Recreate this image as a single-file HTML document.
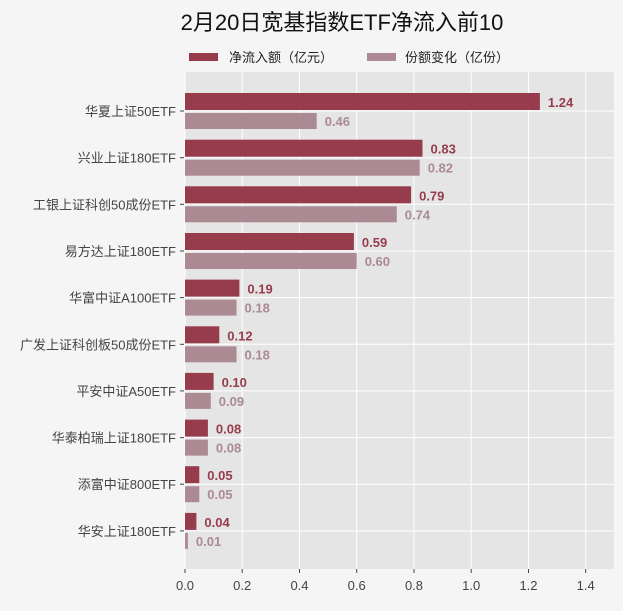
<!DOCTYPE html>
<html><head><meta charset="utf-8"><style>
html,body{margin:0;padding:0;background:#f5f5f5;}
svg text{font-family:"Liberation Sans","Noto Sans CJK SC",sans-serif;}
.n{font-size:13px;fill:#444;text-anchor:end}
.a{font-size:13px;font-weight:bold;fill:#963c4c}
.b{font-size:13px;font-weight:bold;fill:#ab8a93}
</style></head><body>
<svg width="623" height="606" viewBox="0 0 623 606" xmlns="http://www.w3.org/2000/svg">
<rect width="623" height="606" fill="#f5f5f5"/>
<text x="342" y="30" font-size="22" text-anchor="middle" fill="#111">2月20日宽基指数ETF净流入前10</text>
<rect x="189" y="53" width="29" height="8" fill="#963c4c"/>
<text x="229" y="62" font-size="13" fill="#222">净流入额（亿元）</text>
<rect x="367" y="53" width="29" height="8" fill="#ab8a93"/>
<text x="405" y="62" font-size="13" fill="#222">份额变化（亿份）</text>
<rect x="185" y="72" width="429" height="497" fill="#e5e5e5"/>
<g stroke="#fff" stroke-width="1">
<line x1="185" y1="72" x2="185" y2="569"/><line x1="242.2" y1="72" x2="242.2" y2="569"/><line x1="299.5" y1="72" x2="299.5" y2="569"/><line x1="356.7" y1="72" x2="356.7" y2="569"/><line x1="414" y1="72" x2="414" y2="569"/><line x1="471.2" y1="72" x2="471.2" y2="569"/><line x1="528.5" y1="72" x2="528.5" y2="569"/><line x1="585.7" y1="72" x2="585.7" y2="569"/>
<line x1="185" y1="111" x2="614" y2="111"/><line x1="185" y1="157.7" x2="614" y2="157.7"/><line x1="185" y1="204.3" x2="614" y2="204.3"/><line x1="185" y1="251" x2="614" y2="251"/><line x1="185" y1="297.6" x2="614" y2="297.6"/><line x1="185" y1="344.3" x2="614" y2="344.3"/><line x1="185" y1="390.9" x2="614" y2="390.9"/><line x1="185" y1="437.6" x2="614" y2="437.6"/><line x1="185" y1="484.2" x2="614" y2="484.2"/><line x1="185" y1="530.9" x2="614" y2="530.9"/>
</g>
<g font-size="13" fill="#444" text-anchor="middle">
<text x="185" y="590">0.0</text><text x="242.2" y="590">0.2</text><text x="299.5" y="590">0.4</text><text x="356.7" y="590">0.6</text><text x="414" y="590">0.8</text><text x="471.2" y="590">1.0</text><text x="528.5" y="590">1.2</text><text x="585.7" y="590">1.4</text>
</g>
<g stroke="#444"><line x1="185" y1="569" x2="185" y2="573"/><line x1="242.2" y1="569" x2="242.2" y2="573"/><line x1="299.5" y1="569" x2="299.5" y2="573"/><line x1="356.7" y1="569" x2="356.7" y2="573"/><line x1="414" y1="569" x2="414" y2="573"/><line x1="471.2" y1="569" x2="471.2" y2="573"/><line x1="528.5" y1="569" x2="528.5" y2="573"/><line x1="585.7" y1="569" x2="585.7" y2="573"/>
<line x1="180" y1="111" x2="184" y2="111"/><line x1="180" y1="157.7" x2="184" y2="157.7"/><line x1="180" y1="204.3" x2="184" y2="204.3"/><line x1="180" y1="251" x2="184" y2="251"/><line x1="180" y1="297.6" x2="184" y2="297.6"/><line x1="180" y1="344.3" x2="184" y2="344.3"/><line x1="180" y1="390.9" x2="184" y2="390.9"/><line x1="180" y1="437.6" x2="184" y2="437.6"/><line x1="180" y1="484.2" x2="184" y2="484.2"/><line x1="180" y1="530.9" x2="184" y2="530.9"/>
</g>
<text class="n" x="176" y="116">华夏上证50ETF</text>
<text class="n" x="176" y="162.7">兴业上证180ETF</text>
<text class="n" x="176" y="209.3">工银上证科创50成份ETF</text>
<text class="n" x="176" y="256">易方达上证180ETF</text>
<text class="n" x="176" y="302.6">华富中证A100ETF</text>
<text class="n" x="176" y="349.3">广发上证科创板50成份ETF</text>
<text class="n" x="176" y="395.9">平安中证A50ETF</text>
<text class="n" x="176" y="442.6">华泰柏瑞上证180ETF</text>
<text class="n" x="176" y="489.2">添富中证800ETF</text>
<text class="n" x="176" y="535.9">华安上证180ETF</text>
<g fill="#963c4c">
<rect x="185" y="93" width="354.9" height="17"/>
<rect x="185" y="139.7" width="237.5" height="17"/>
<rect x="185" y="186.3" width="226.1" height="17"/>
<rect x="185" y="233" width="168.9" height="17"/>
<rect x="185" y="279.6" width="54.4" height="17"/>
<rect x="185" y="326.3" width="34.3" height="17"/>
<rect x="185" y="372.9" width="28.6" height="17"/>
<rect x="185" y="419.6" width="22.9" height="17"/>
<rect x="185" y="466.2" width="14.3" height="17"/>
<rect x="185" y="512.9" width="11.4" height="17"/>
</g>
<g fill="#ab8a93">
<rect x="185" y="113" width="131.7" height="16"/>
<rect x="185" y="159.7" width="234.7" height="16"/>
<rect x="185" y="206.3" width="211.8" height="16"/>
<rect x="185" y="253" width="171.7" height="16"/>
<rect x="185" y="299.6" width="51.5" height="16"/>
<rect x="185" y="346.3" width="51.5" height="16"/>
<rect x="185" y="392.9" width="25.8" height="16"/>
<rect x="185" y="439.6" width="22.9" height="16"/>
<rect x="185" y="486.2" width="14.3" height="16"/>
<rect x="185" y="532.9" width="2.9" height="16"/>
</g>
<text class="a" x="547.9" y="107">1.24</text>
<text class="a" x="430.5" y="153.7">0.83</text>
<text class="a" x="419.1" y="200.3">0.79</text>
<text class="a" x="361.9" y="247">0.59</text>
<text class="a" x="247.4" y="293.6">0.19</text>
<text class="a" x="227.3" y="340.3">0.12</text>
<text class="a" x="221.6" y="386.9">0.10</text>
<text class="a" x="215.9" y="433.6">0.08</text>
<text class="a" x="207.3" y="480.2">0.05</text>
<text class="a" x="204.4" y="526.9">0.04</text>
<text class="b" x="324.7" y="126">0.46</text>
<text class="b" x="427.7" y="172.7">0.82</text>
<text class="b" x="404.8" y="219.3">0.74</text>
<text class="b" x="364.7" y="266">0.60</text>
<text class="b" x="244.5" y="312.6">0.18</text>
<text class="b" x="244.5" y="359.3">0.18</text>
<text class="b" x="218.8" y="405.9">0.09</text>
<text class="b" x="215.9" y="452.6">0.08</text>
<text class="b" x="207.3" y="499.2">0.05</text>
<text class="b" x="195.9" y="545.9">0.01</text>
</svg>
</body></html>
